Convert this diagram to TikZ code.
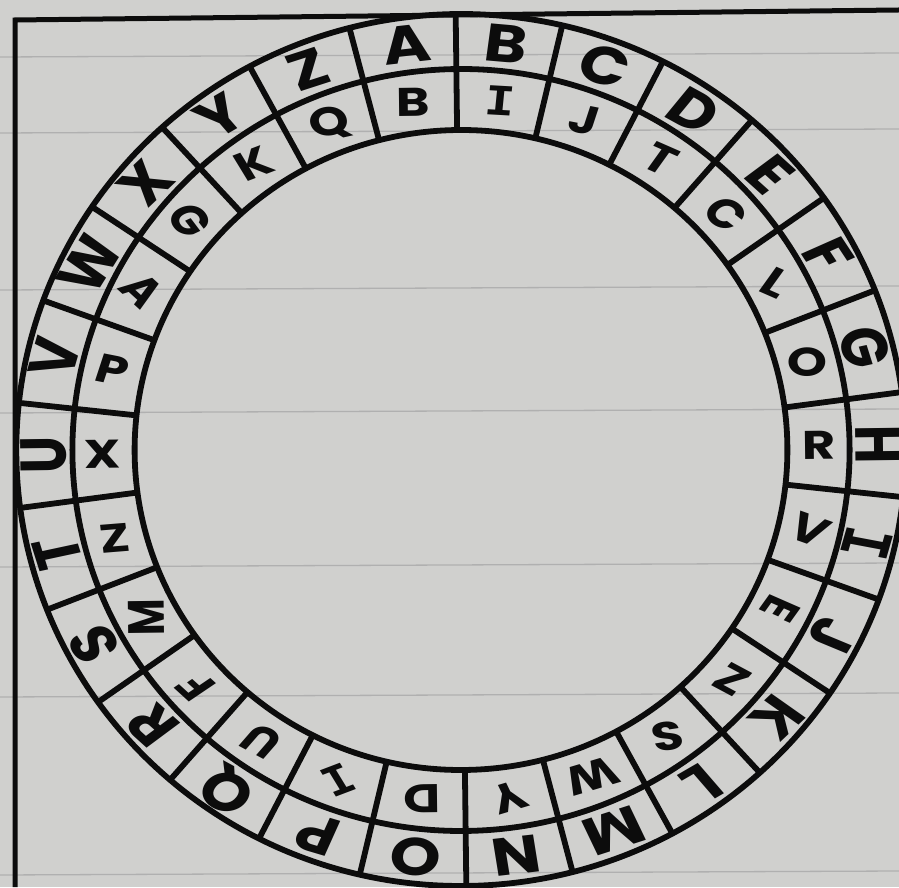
\documentclass[tikz,border=0pt]{standalone}
\usepackage{fontspec}
\setmainfont{Poppins}
\newfontfamily\serifI{DejaVu Sans Mono}
\definecolor{paper}{RGB}{208,208,206}
\definecolor{rule}{RGB}{176,176,176}
\definecolor{ink}{RGB}{12,12,12}
\tikzset{
  ring/.style={draw=ink, line width=5.8pt},
  frameline/.style={draw=ink, line width=5pt},
  ruleline/.style={draw=rule, line width=1.3pt},
  outerletter/.style={text=ink, font=\fontsize{53}{53}\selectfont\bfseries, inner sep=0pt, transform shape, xscale=1.2},
  innerletter/.style={text=ink, font=\fontsize{40}{40}\selectfont\bfseries, inner sep=0pt, transform shape, xscale=1.25}
}
\begin{document}
\begin{tikzpicture}[x=1pt,y=1pt]
\useasboundingbox (0,0) rectangle (899,887);
\fill[paper] (0,0) rectangle (899,887);
% faint ruled lines of the paper
\foreach \yy in {830,754,597,474,320,190,12}
  \draw[ruleline] (0,\yy) -- (899,\yy+4);
% frame
\draw[frameline] (15,0) -- (15,867) -- (899,877);
\begin{scope}[shift={(461,437)}, rotate=0.7, xscale=1.02]
  \draw[ring] (0,0) circle (436);
  \draw[ring] (0,0) circle (381);
  \draw[ring] (0,0) circle (320);
  \foreach \k in {0,...,25}
    \draw[ring] (90-\k*360/26:320) -- (90-\k*360/26:436);
  \foreach \L [count=\i from 0] in {A,B,C,D,E,F,G,H,{\serifI I},J,K,L,M,N,O,P,Q,R,S,T,U,V,W,X,Y,Z}
    \node[outerletter, rotate={-(\i-0.5)*360/26}] (o\i) at ({90-(\i-0.5)*360/26}:409) {\L};
  \foreach \L/\r [count=\i from 0] in {B/0,{\serifI I}/-5,J/-15,T/-30,C/-45,L/-30,O/0,R/0,V/-25,E/-120,Z/-35,S/10,W/-160,Y/-160,D/180,{\serifI I}/25,U/145,F/130,M/90,Z/5,X/0,P/-15,A/-50,G/-60,K/25,Q/15}
    \node[innerletter, rotate=\r] (i\i) at ({90-(\i-0.5)*360/26}:351) {\L};
\end{scope}
\end{tikzpicture}
\end{document}
